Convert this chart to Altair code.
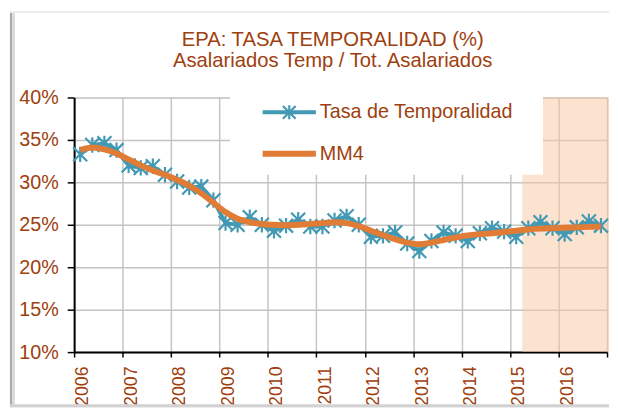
import altair as alt
import pandas as pd

# ---------------- data ----------------
years = list(range(2006, 2017))
quarters = ["T1", "T2", "T3", "T4"]
tasa = [33.3, 34.4, 34.6, 33.8,
        32.0, 31.7, 31.9, 30.9,
        30.1, 29.4, 29.5, 27.9,
        25.2, 25.0, 25.9, 25.0,
        24.3, 24.9, 25.6, 24.8,
        24.8, 25.5, 26.0, 25.0,
        23.6, 23.7, 24.1, 22.8,
        21.9, 23.1, 24.1, 23.7,
        23.1, 24.0, 24.6, 24.2,
        23.6, 24.6, 25.3, 24.6,
        23.9, 24.7, 25.4, 24.9]
mm4 = [33.8, 34.1, 33.9, 33.4,
       32.7, 32.0, 31.4, 30.9,
       30.3, 29.6, 28.7, 27.6,
       26.5, 25.7, 25.3, 25.1,
       25.0, 24.95, 25.0, 25.1,
       25.2, 25.3, 25.2, 24.85,
       24.3, 23.8, 23.3, 22.9,
       22.7, 22.9, 23.2, 23.5,
       23.75, 23.9, 24.0, 24.15,
       24.3, 24.45, 24.55, 24.6,
       24.65, 24.7, 24.75, 24.8]
series_names = ["Tasa de Temporalidad", "MM4"]
y_ticks = [10, 15, 20, 25, 30, 35, 40]
x_ticks = list(range(2006, 2018))
forecast_span = [2015.25, 2017.04]

rows = []
k = 0
for yr in years:
    for qi, q in enumerate(quarters):
        rows.append({"periodo": f"{yr}{q}", "t": yr + (qi + 0.5) / 4,
                     "tasa": tasa[k], "mm4": mm4[k]})
        k += 1
df = pd.DataFrame(rows)
shade_df = pd.DataFrame({"x": [forecast_span[0]], "x2": [forecast_span[1]],
                         "y": [y_ticks[0]], "y2": [y_ticks[-1]]})
legend_df = pd.DataFrame({"serie": series_names})

# ---------------- style ----------------
BROWN = "#9e400e"
BLUE = "#4299b4"
ORANGE = "#e07c35"
GRID = "#c4c4c4"
FONT = "Liberation Sans"

xscale = alt.Scale(domain=[2006, 2017], nice=False, zero=False)
yscale = alt.Scale(domain=[10, 40], nice=False, zero=False)

x_axis = alt.Axis(values=x_ticks, title=None,
                  labelExpr="datum.value == 2017 ? '' : '' + datum.value",
                  labelAngle=270, labelAlign="right", labelBaseline="top",
                  labelFontSize=18, labelFont=FONT, labelColor=BROWN,
                  labelPadding=9, labelFlush=False, labelOverlap=False,
                  domainColor="black", domainWidth=2,
                  tickColor="black", tickWidth=1.5, tickSize=5,
                  grid=True, gridColor=GRID, gridWidth=1.5)
y_axis = alt.Axis(values=y_ticks, title=None,
                  labelExpr="datum.value + '%'",
                  labelFontSize=20, labelFont=FONT, labelColor=BROWN,
                  labelPadding=9, labelFlush=False,
                  domainColor="black", domainWidth=2,
                  tickColor="black", tickWidth=1.5, tickSize=7,
                  grid=True, gridColor=GRID, gridWidth=1.5)

shade = alt.Chart(shade_df).mark_rect(color="#f8c7a0", opacity=0.5, clip=False).encode(
    x=alt.X("x:Q", scale=xscale, axis=x_axis),
    x2="x2:Q",
    y=alt.Y("y:Q", scale=yscale, axis=y_axis),
    y2="y2:Q",
)

legend_box = alt.Chart(legend_df).mark_rect(color="white").encode(
    x=alt.value(158), x2=alt.value(475), y=alt.value(-3), y2=alt.value(78)
)

blue_line = alt.Chart(df).mark_line(color=BLUE, strokeWidth=4).encode(
    x=alt.X("t:Q", scale=xscale, axis=x_axis),
    y=alt.Y("tasa:Q", scale=yscale, axis=y_axis),
)

STAR = "M-1,-1L1,1M-1,1L1,-1M0,-1.1L0,1.1"
stars = alt.Chart(df).mark_point(shape=STAR, filled=False, color=BLUE,
                                 strokeWidth=2.2, size=200, opacity=1).encode(
    x=alt.X("t:Q", scale=xscale, axis=x_axis),
    y=alt.Y("tasa:Q", scale=yscale, axis=y_axis),
)

orange_line = alt.Chart(df).mark_line(color=ORANGE, strokeWidth=6,
                                      interpolate="monotone").encode(
    x=alt.X("t:Q", scale=xscale, axis=x_axis),
    y=alt.Y("mm4:Q", scale=yscale, axis=y_axis),
)

PATH_BLUE = ("M-2.5,-0.09L2.5,-0.09M-2.5,0.09L2.5,0.09"
             "M-0.6,-0.6L0.6,0.6M-0.6,0.6L0.6,-0.6M0,-0.66L0,0.66")
PATH_ORANGE = "M-2.5,-0.185L2.5,-0.185M-2.5,0L2.5,0M-2.5,0.185L2.5,0.185"

leg = alt.Legend(title=None, orient="none", legendX=206, legendY=3,
                 padding=0, symbolSize=466, rowPadding=18,
                 labelOffset=19, labelFontSize=20, labelFont=FONT,
                 labelColor=BROWN, labelLimit=400,
                 symbolOpacity=1, symbolStrokeWidth=2.2)

legend_layer = alt.Chart(legend_df).mark_point(filled=False, opacity=0, size=466).encode(
    x=alt.value(0), y=alt.value(0),
    color=alt.Color("serie:N", scale=alt.Scale(domain=series_names, range=[BLUE, ORANGE]), legend=leg),
    shape=alt.Shape("serie:N", scale=alt.Scale(domain=series_names, range=[PATH_BLUE, PATH_ORANGE]), legend=leg),
)

# chart frame (decoration)
frame_left_dark = alt.Chart(legend_df).mark_rule(color="#a8a8a8", strokeWidth=2).encode(
    x=alt.value(-64), y=alt.value(-87), y2=alt.value(313))
frame_left_light = alt.Chart(legend_df).mark_rule(color="#dcdcdc", strokeWidth=3).encode(
    x=alt.value(-61.5), y=alt.value(-86), y2=alt.value(313))
frame_top = alt.Chart(legend_df).mark_rule(color="#ececec", strokeWidth=2).encode(
    x=alt.value(-65), x2=alt.value(542), y=alt.value(-86.5))
frame_bottom = alt.Chart(legend_df).mark_rule(color="#d2d2d2", strokeWidth=3).encode(
    x=alt.value(-65), x2=alt.value(542), y=alt.value(312.5))

chart = alt.layer(
    shade, legend_box, blue_line, stars, orange_line, legend_layer,
    frame_left_dark, frame_left_light, frame_top, frame_bottom,
).properties(
    width=540, height=258,
    autosize=alt.AutoSizeParams(type="none"),
    padding={"left": 67, "top": 88, "right": 3, "bottom": 56},
    title=alt.TitleParams(
        text=["EPA: TASA TEMPORALIDAD (%)", "Asalariados Temp / Tot. Asalariados"],
        font=FONT, fontSize=20.5, fontWeight="normal", color=BROWN,
        lineHeight=22, anchor="middle", dx=-8, offset=-82,
        frame="group", baseline="bottom"),
).configure_view(stroke=None).configure(background="white")

chart.save("out.html", embed_options={"renderer": "svg", "actions": False})
